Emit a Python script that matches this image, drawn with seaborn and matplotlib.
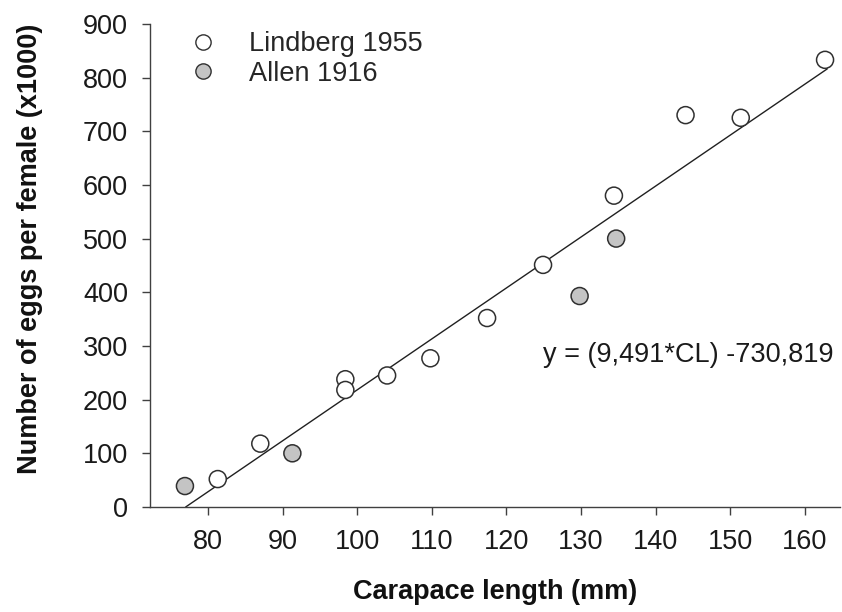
import matplotlib
matplotlib.use("Agg")
import matplotlib.pyplot as plt
import seaborn as sns
import numpy as np
import pandas as pd
from matplotlib.lines import Line2D

# Data
lindberg_cl = [81.3, 87.0, 98.4, 98.4, 104.0, 109.8, 117.4, 124.9, 134.4, 144.0, 151.4, 162.7]
lindberg_eggs = [52, 118, 238, 218, 245, 277, 352, 451, 580, 730, 725, 833]
allen_cl = [76.9, 91.3, 129.8, 134.7]
allen_eggs = [39, 100, 393, 500]
series_names = ["Lindberg 1955", "Allen 1916"]
slope = 9.491
intercept = -730.819
x_ticks = [80, 90, 100, 110, 120, 130, 140, 150, 160]
y_ticks = [0, 100, 200, 300, 400, 500, 600, 700, 800, 900]

df = pd.DataFrame({
    "cl": lindberg_cl + allen_cl,
    "eggs": lindberg_eggs + allen_eggs,
    "src": [series_names[0]] * len(lindberg_cl) + [series_names[1]] * len(allen_cl),
})

sns.set_style("white")
plt.rcParams["font.family"] = ["Liberation Sans", "DejaVu Sans"]

fig = plt.figure(figsize=(8.42, 6.12), dpi=100)
ax = fig.add_axes([0.178, 0.1716, 0.8196, 0.7894])

# regression line
x0 = -intercept / slope
xl = np.array([x0, 163.0])
ax.plot(xl, slope * xl + intercept, color="#202020", lw=1.0, zorder=1)

palette = {series_names[0]: "white", series_names[1]: "#c4c4c4"}
sns.scatterplot(data=df, x="cl", y="eggs", hue="src", palette=palette,
                s=150, edgecolor="#303030", linewidth=1.1, ax=ax, legend=False, zorder=3)

ax.set_xlim(72.2, 164.7)
ax.set_ylim(0, 900)
ax.set_xticks(x_ticks)
ax.set_yticks(y_ticks)

for side in ["top", "right"]:
    ax.spines[side].set_visible(False)
for side in ["left", "bottom"]:
    ax.spines[side].set_color("#404040")
    ax.spines[side].set_linewidth(1.0)

fs = 19.5
ax.tick_params(axis="both", direction="out", length=5.8, width=1.0, color="#404040",
               labelsize=fs, labelcolor="#1a1a1a", pad=10, left=True, bottom=True)

ax.set_xlabel("Carapace length (mm)", fontsize=fs, fontweight="bold", labelpad=17, color="#111111")
ax.set_ylabel("Number of eggs per female (x1000)", fontsize=fs, fontweight="bold", color="#111111")
ax.yaxis.set_label_coords(-0.155, 0.535)

handles = [
    Line2D([], [], marker="o", ls="", markersize=11, markerfacecolor=palette[n],
           markeredgecolor="#303030", markeredgewidth=1.0, label=n)
    for n in series_names
]
ax.legend(handles=handles, loc="upper left", bbox_to_anchor=(0.018, 1.035), frameon=False,
          fontsize=fs, handletextpad=1.1, labelspacing=0.12, handlelength=1.2)

ax.text(163.8, 283, "y = (9,491*CL) -730,819", ha="right", va="center", fontsize=fs, color="#1a1a1a")

fig.savefig("out.png", dpi=100)
